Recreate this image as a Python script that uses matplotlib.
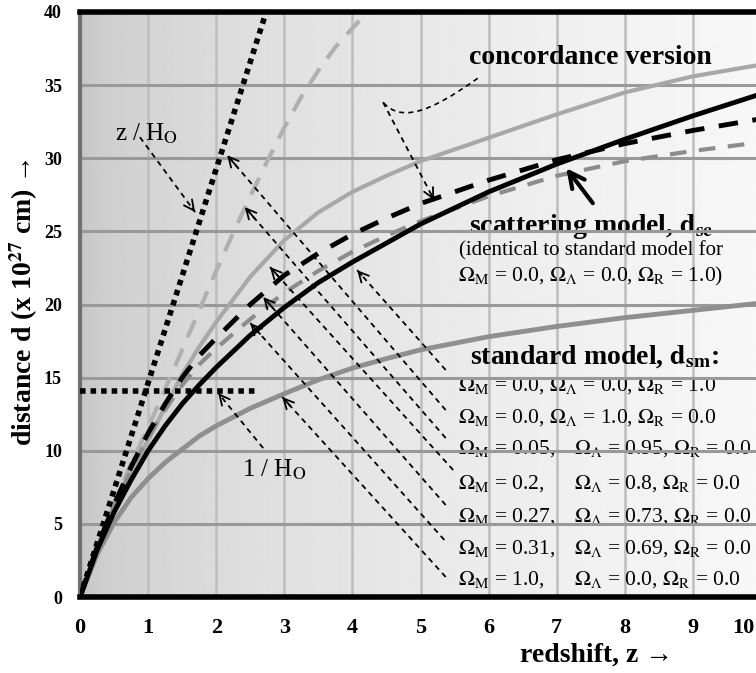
import numpy as np
import matplotlib
matplotlib.use('Agg')
import matplotlib.pyplot as plt
from matplotlib.path import Path
from matplotlib.patches import PathPatch

plt.rcParams['font.family'] = ['Liberation Serif', 'DejaVu Serif']
plt.rcParams['mathtext.fontset'] = 'stix'

# redshift samples shared by most curves
z = [0, 0.25, 0.5, 0.75, 1, 1.25, 1.5, 1.75, 2, 2.5, 3, 3.5, 4, 4.5, 5, 6, 7, 8, 9, 10]

# scattering model d_sc (same as standard model with Omega_R = 1)
d_scatter = [0, 3.2, 5.8, 8.0, 10.0, 11.7, 13.2, 14.5, 15.7, 17.9, 19.8, 21.5, 22.9, 24.2, 25.5, 27.7, 29.6, 31.3, 32.9, 34.4]
# Omega_M = 1.0
d_m10 = [0, 2.9, 5.1, 6.8, 8.1, 9.2, 10.1, 11.0, 11.7, 12.9, 13.9, 14.85, 15.65, 16.3, 16.9, 17.8, 18.5, 19.1, 19.6, 20.1]
# Omega_M = 0.2
d_m02 = [0, 3.3, 6.1, 8.6, 10.7, 13.0, 15.2, 17.1, 18.8, 21.9, 24.4, 26.3, 27.7, 28.8, 29.8, 31.4, 33.0, 34.5, 35.6, 36.4]
# Omega_M = 0.27 (concordance)
d_m027 = [0, 3.4, 6.3, 8.9, 11.2, 13.2, 15.0, 16.5, 17.7, 20.0, 22.0, 23.5, 24.8, 25.9, 26.9, 28.5, 29.9, 31.0, 31.9, 32.7]
# Omega_M = 0.31
d_m031 = [0, 3.4, 6.2, 8.7, 10.9, 12.8, 14.5, 15.9, 17.0, 19.0, 20.8, 22.3, 23.6, 24.7, 25.7, 27.4, 28.8, 29.8, 30.5, 31.1]

# Omega_M = 0.05 (runs off the top)
z_m005 = [0, 0.25, 0.5, 0.75, 1, 1.25, 1.5, 1.75, 2, 2.25, 2.5, 2.75, 3, 3.25, 3.5, 3.75, 4.1]
d_m005 = [0, 3.4, 6.4, 9.1, 11.6, 14.2, 16.9, 19.6, 22.3, 24.9, 27.4, 29.8, 32.1, 34.2, 36.0, 37.6, 39.4]

# z / H0 line and 1 / H0 level
z_hubble = [0, 2.72]
d_hubble = [0, 39.8]
z_inv = [0, 2.6]
d_inv = [14.1, 14.1]

# standard model parameter table
om_m = ['0.0', '0.0', '0.05', '0.2', '0.27', '0.31', '1.0']
om_l = ['0.0', '1.0', '0.95', '0.8', '0.73', '0.69', '0.0']
om_r = ['1.0', '0.0', '0.0', '0.0', '0.0', '0.0', '0.0']

fig = plt.figure(figsize=(7.56, 6.73), dpi=100)
ax = fig.add_axes([80/756, 76/673, 681/756, 585/673])

# grey gradient background
t = np.linspace(0, 1, 256)
shade = 0.77 + 0.20*np.sqrt(t)
ax.imshow(np.tile(shade, (2, 1)), cmap='gray', vmin=0, vmax=1, extent=[0, 1, 0, 1],
          transform=ax.transAxes, aspect='auto', zorder=0)

for k in range(1, 11):
    ax.axvline(k, color='#bdbdbd', lw=1.8, zorder=1)
for k in range(5, 40, 5):
    ax.axhline(k, color='#999999', lw=2.2, zorder=2.5)

# curves
ax.plot(z, d_m10, color='#8f8f8f', lw=3.5, zorder=3)
ax.plot(z, d_m02, color='#a8a8a8', lw=3, zorder=3)
ax.plot(z_m005, d_m005, color='#b0b0b0', lw=3, ls=(0, (4.5, 3)), zorder=3)
ax.plot(z, d_m031, color='#8c8c8c', lw=3, ls=(0, (4, 3)), zorder=3.2)
ax.plot(z, d_m027, color='k', lw=3.5, ls=(0, (4, 3)), zorder=3.4)
ax.plot(z, d_scatter, color='k', lw=3.5, zorder=4)
ax.plot(z_hubble, d_hubble, color='k', lw=4, ls=(0, (1, 0.9)), zorder=4)
ax.plot(z_inv, d_inv, color='k', lw=4, ls=(0, (1, 0.9)), zorder=4)


def dashed_arrow(tail, tip):
    ax.plot([tail[0], tip[0]], [tail[1], tip[1]], color='k', lw=1.3, ls=(0, (3, 2.5)), zorder=6)
    back = (tip[0] + 0.05*(tail[0]-tip[0]), tip[1] + 0.05*(tail[1]-tip[1]))
    ax.annotate('', xy=tip, xytext=back, zorder=6,
                arrowprops=dict(arrowstyle='->', color='k', lw=1.3, mutation_scale=18,
                                shrinkA=0, shrinkB=0))


# pointers from the parameter list to the curves
dashed_arrow((5.37, 15.52), (4.07, 22.35))
dashed_arrow((5.37, 12.78), (2.16, 30.21))
dashed_arrow((5.37, 10.87), (2.42, 26.66))
dashed_arrow((5.48, 8.68), (2.79, 22.56))
dashed_arrow((5.37, 6.29), (2.69, 20.51))
dashed_arrow((5.35, 3.90), (2.50, 18.73))
dashed_arrow((5.37, 1.37), (2.97, 13.67))
dashed_arrow((0.88, 31.44), (1.69, 26.32))
dashed_arrow((2.69, 10.18), (2.03, 13.94))

# concordance pointer with a hook
hook = Path([(5.84, 35.47), (5.1, 33.0), (4.7, 32.5), (4.45, 33.83)],
            [Path.MOVETO, Path.CURVE4, Path.CURVE4, Path.CURVE4])
ax.add_patch(PathPatch(hook, fill=False, color='k', lw=1.2, ls=(0, (3, 2.5)), zorder=6))
dashed_arrow((4.45, 33.83), (5.20, 27.14))

# scattering model arrow
ax.annotate('', xy=(7.14, 29.32), xytext=(7.53, 26.93), zorder=7,
            arrowprops=dict(arrowstyle='->', color='k', lw=3, mutation_scale=28,
                            shrinkA=0, shrinkB=0))

ax.text(0.98, 31.7, r'z / H$_{\rm O}$', fontsize=18, ha='center', va='center', zorder=2)
ax.text(2.85, 8.68, r'1 / H$_{\rm O}$', fontsize=18, ha='center', va='center', zorder=2)
ax.text(7.5, 36.9, 'concordance version', fontsize=20, fontweight='bold',
        ha='center', va='center', zorder=2)
ax.text(7.5, 25.3, r'scattering model, $\mathbf{d}_{\mathbf{sc}}$', fontsize=20,
        fontweight='bold', ha='center', va='center', zorder=2)
ax.text(7.5, 23.7, '(identical to standard model for', fontsize=15,
        ha='center', va='center', zorder=2)
ax.text(5.55, 21.94, r'$\Omega_{\rm M}$ = 0.0, $\Omega_{\Lambda}$ = 0.0, $\Omega_{\rm R}$ = 1.0)',
        fontsize=15.5, ha='left', va='center', zorder=2)
ax.text(7.55, 16.4, r'standard model, $\mathbf{d}_{\mathbf{sm}}$:', fontsize=20,
        fontweight='bold', ha='center', va='center', zorder=2)

row_d = [14.49, 12.30, 10.18, 7.79, 5.47, 3.28, 1.16]
for i in range(7):
    if i < 2:
        s = (r'$\Omega_{\rm M}$ = ' + om_m[i] + r', $\Omega_{\Lambda}$ = ' + om_l[i]
             + r', $\Omega_{\rm R}$ = ' + om_r[i])
        ax.text(5.55, row_d[i], s, fontsize=15.5, ha='left', va='center', zorder=2)
    else:
        ax.text(5.55, row_d[i], r'$\Omega_{\rm M}$ = ' + om_m[i] + ',', fontsize=15.5,
                ha='left', va='center', zorder=2)
        ax.text(7.25, row_d[i], r'$\Omega_{\Lambda}$ = ' + om_l[i] + r', $\Omega_{\rm R}$ = ' + om_r[i],
                fontsize=15.5, ha='left', va='center', zorder=2)

ax.set_xlim(0, 10)
ax.set_ylim(0, 40)
ax.set_xticks(range(11))
ax.set_xticklabels([str(k) for k in range(10)] + [''])
ax.set_yticks(range(0, 41, 5))
ax.tick_params(axis='x', length=0, pad=15, labelsize=16)
ax.tick_params(axis='y', length=0, pad=13, labelsize=13)
for lab in ax.get_xticklabels() + ax.get_yticklabels():
    lab.set_fontweight('bold')
# last x label sits against the right edge
fig.text(755/756, 1 - 628/673, '10', fontsize=16, fontweight='bold', ha='right', va='center')

ax.spines['top'].set_linewidth(4)
ax.spines['bottom'].set_linewidth(4)
ax.spines['left'].set_linewidth(3)
ax.spines['left'].set_color('#707070')
ax.spines['right'].set_visible(False)

fig.text(24/756, 1 - 302/673, r'distance d (x 10$^{\mathbf{27}}$ cm) →', rotation=90,
         fontsize=20, fontweight='bold', ha='center', va='center')
fig.text(597/756, 18/673, 'redshift, z →', fontsize=20, fontweight='bold',
         ha='center', va='center')

fig.savefig('out.png', dpi=100)
